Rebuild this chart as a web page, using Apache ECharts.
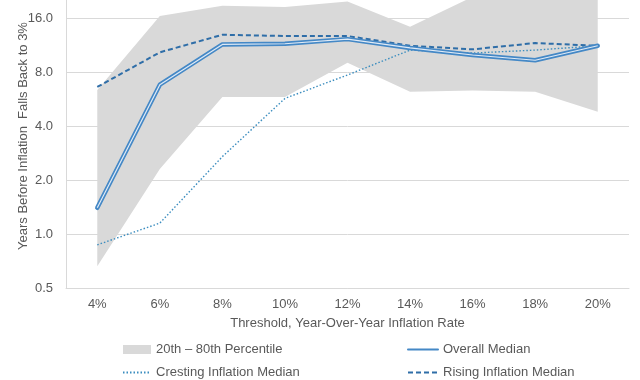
<!DOCTYPE html>
<html><head><meta charset="utf-8">
<script src="https://cdn.jsdelivr.net/npm/echarts@6/dist/echarts.min.js"></script>
<style>html,body{margin:0;padding:0;background:#fff}#c{width:640px;height:380px}</style>
</head><body><div id="c"></div>
<script>
const categories = ['4%','6%','8%','10%','12%','14%','16%','18%','20%'];
const bandLower = [0.66, 2.3, 5.8, 5.8, 9.0, 6.2, 6.3, 6.2, 4.8];
const bandUpper = [6.35, 16.4, 18.7, 18.4, 19.8, 14.3, 21, 21, 21];
const overallMedian = [1.4, 6.8, 11.4, 11.5, 12.2, 10.9, 9.95, 9.3, 11.2];
const crestingMedian = [0.87, 1.15, 2.7, 5.7, 7.7, 10.6, 10.2, 10.6, 11.2];
const risingMedian = [6.6, 10.3, 12.9, 12.7, 12.7, 11.2, 10.7, 11.6, 11.2];

const FONT = "'Liberation Sans', Arial, sans-serif";
const TXT = '#595959';
const bandSpan = bandUpper.map((u, i) => u - bandLower[i]);

const chart = echarts.init(document.getElementById('c'));
chart.setOption({
  animation: false,
  textStyle: { fontFamily: FONT },
  grid: { left: 66, right: 11, top: -36, bottom: 92, outerBoundsMode: 'none', containLabel: false },
  legend: [
    {
      orient: 'vertical', left: 117, top: 338, height: 44, itemWidth: 28, itemHeight: 9, itemGap: 10,
      textStyle: { color: TXT, fontSize: 13, fontFamily: FONT },
      itemStyle: { opacity: 0 },
      data: [
        { name: '20th – 80th Percentile', icon: 'rect', itemStyle: { color: '#d9d9d9', opacity: 1 } },
        'Cresting Inflation Median'
      ]
    },
    {
      orient: 'vertical', left: 402, top: 338, height: 44, itemWidth: 30, itemHeight: 9, itemGap: 10,
      textStyle: { color: TXT, fontSize: 13, fontFamily: FONT },
      itemStyle: { opacity: 0 },
      data: ['Overall Median', 'Rising Inflation Median']
    }
  ],
  xAxis: {
    type: 'category', data: categories, boundaryGap: true,
    axisLine: { show: true, lineStyle: { color: '#d9d9d9' } },
    axisTick: { show: false },
    axisLabel: { color: TXT, fontSize: 13, margin: 10, fontFamily: FONT },
    name: 'Threshold, Year-Over-Year Inflation Rate',
    nameLocation: 'middle', nameGap: 29,
    nameTextStyle: { color: TXT, fontSize: 13, fontFamily: FONT }
  },
  yAxis: {
    type: 'log', logBase: 2, min: 0.5, max: 32, interval: 1,
    axisLine: { show: true, lineStyle: { color: '#d9d9d9' } },
    axisTick: { show: false },
    splitLine: { lineStyle: { color: '#d9d9d9' } },
    axisLabel: { color: TXT, fontSize: 13, margin: 13, fontFamily: FONT,
      formatter: v => Number(v).toFixed(1) },
    name: 'Years Before Inflation  Falls Back to 3%',
    nameLocation: 'middle', nameGap: 36, nameRotate: 90, nameMoveOverlap: false,
    nameTextStyle: { color: TXT, fontSize: 13, fontFamily: FONT, padding: [0, 20, 0, 0] }
  },
  series: [
    { name: 'bandLow', type: 'line', stack: 'band', data: bandLower, symbol: 'none',
      lineStyle: { width: 0, opacity: 0 }, silent: true },
    { name: '20th – 80th Percentile', type: 'line', stack: 'band', data: bandSpan, symbol: 'none',
      lineStyle: { width: 0, opacity: 0 }, itemStyle: { color: '#d9d9d9' },
      areaStyle: { color: '#d9d9d9', opacity: 1 }, silent: true },
    { name: 'Cresting Inflation Median', type: 'line', data: crestingMedian, symbol: 'none',
      itemStyle: { color: '#3b8dbf' },
      lineStyle: { color: '#3b8dbf', width: 1.4, type: [1.5, 2] } },
    { name: 'Rising Inflation Median', type: 'line', data: risingMedian, symbol: 'none',
      itemStyle: { color: '#2f6ea8' },
      lineStyle: { color: '#2f6ea8', width: 2, type: [5, 3] } },
    { name: 'Overall Median', type: 'line', data: overallMedian, symbol: 'none',
      itemStyle: { color: '#4488c6' },
      lineStyle: { color: '#4488c6', width: 4.5, cap: 'round', join: 'round' } },
    { name: 'overlay', type: 'line', data: overallMedian, symbol: 'none',
      lineStyle: { color: '#dfeaf6', width: 1.2 }, silent: true }
  ]
});
</script></body></html>
